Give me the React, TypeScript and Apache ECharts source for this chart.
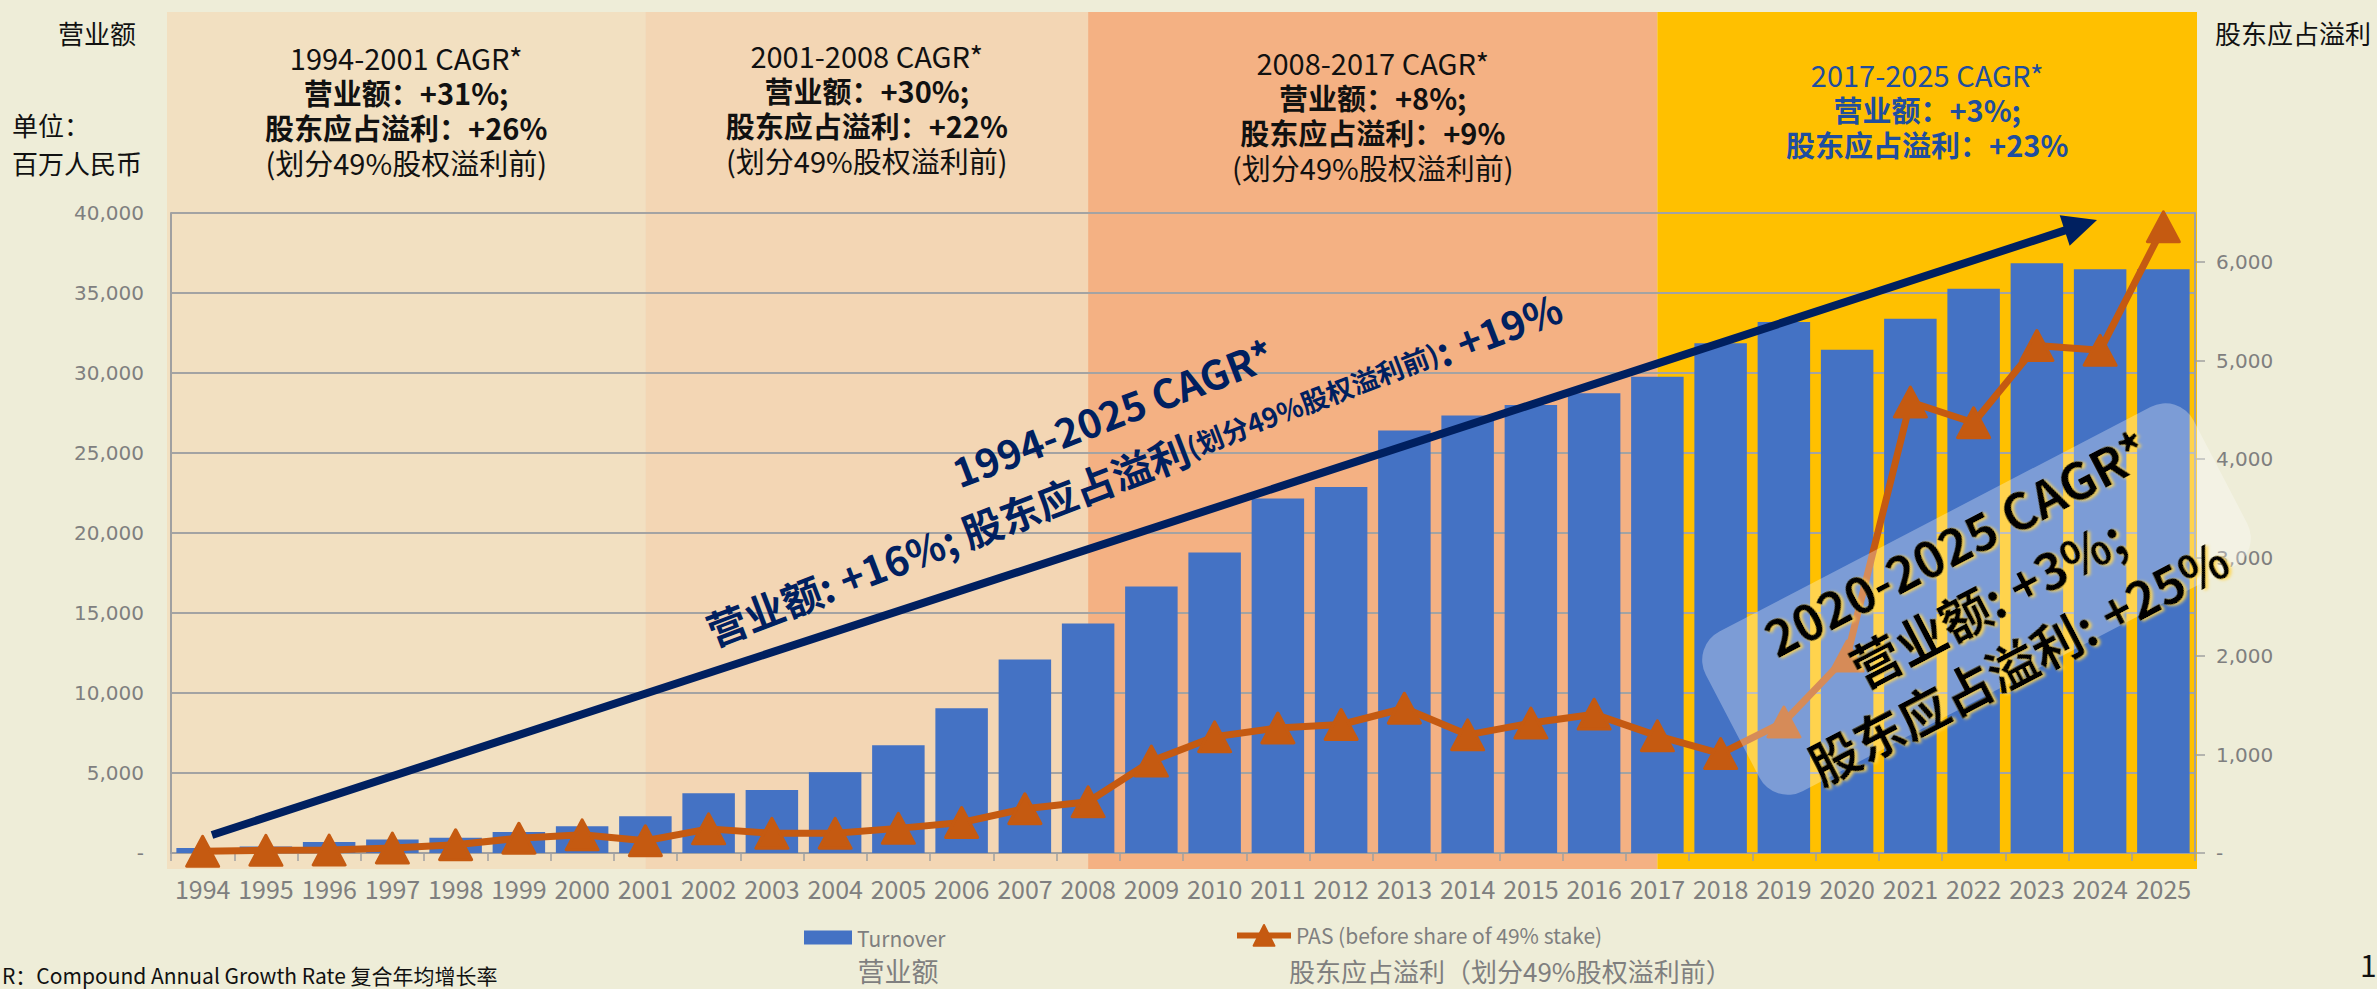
import React, { useEffect, useRef } from "react";
import * as echarts from "echarts";

// ---------- data ----------
const years = [
  "1994", "1995", "1996", "1997", "1998", "1999", "2000", "2001",
  "2002", "2003", "2004", "2005", "2006", "2007", "2008", "2009",
  "2010", "2011", "2012", "2013", "2014", "2015", "2016", "2017",
  "2018", "2019", "2020", "2021", "2022", "2023", "2024", "2025",
];
// Turnover, RMB million (left axis)
const turnover = [
  310, 400, 690, 850, 960, 1310, 1670, 2290,
  3730, 3940, 5040, 6730, 9040, 12100, 14350, 16650,
  18780, 22150, 22870, 26410, 27350, 28000, 28740, 29760,
  31860, 33180, 31450, 33390, 35270, 36860, 36490, 36490,
];
// PAS before share of 49% stake, RMB million (right axis)
const pas = [
  17, 27, 30, 50, 84, 150, 185, 125,
  245, 200, 200, 250, 310, 450, 520, 933,
  1180, 1270, 1305, 1470, 1200, 1320, 1410, 1190,
  1010, 1330, 2000, 4580, 4370, 5155, 5105, 6360,
];
const leftMax = 40000;
const leftInterval = 5000;
const rightMax = 6500;
const rightInterval = 1000;

const seriesNames = ["Turnover", "PAS (before share of 49% stake)"];
const periodEnds = ["2001", "2008", "2017"];
const periodColors = ["#f2e0c1", "#f3d6b4", "#f4b183", "#ffc000"];
const periodTitles = [
  ["1994-2001 CAGR*", "营业额：+31%;", "股东应占溢利：+26%", "(划分49%股权溢利前)"],
  ["2001-2008 CAGR*", "营业额：+30%;", "股东应占溢利：+22%", "(划分49%股权溢利前)"],
  ["2008-2017 CAGR*", "营业额：+8%;", "股东应占溢利：+9%", "(划分49%股权溢利前)"],
  ["2017-2025 CAGR*", "营业额：+3%;", "股东应占溢利：+23%"],
];
const periodTitleTop = [57, 55, 62, 74];

const FONT_CJK = "'Noto Sans CJK SC', 'Noto Sans', sans-serif";
const GRAY = "#7f7f7f";
const NAVY = "#002060";

const W = 2377;
const H = 989;
const G_LEFT = 171;
const G_RIGHT = 2195;
const G_TOP = 213;
const G_BOTTOM = 853;

export default function App() {
  const ref = useRef<HTMLDivElement | null>(null);

  useEffect(() => {
    if (!ref.current) return;
    const chart = echarts.init(ref.current, null, { renderer: "svg" });

    const option: any = {
      animation: false,
      backgroundColor: "#eeedd8",
      grid: {
        left: G_LEFT,
        right: W - G_RIGHT,
        top: G_TOP,
        bottom: H - G_BOTTOM,
        containLabel: false,
      },
      legend: [
        {
          data: [seriesNames[0]],
          left: 799,
          top: 922,
          icon: "rect",
          itemWidth: 48,
          itemHeight: 14,
          textStyle: { color: GRAY, fontSize: 21, fontFamily: FONT_CJK },
        },
        {
          data: [seriesNames[1]],
          left: 1229,
          top: 919,
          itemWidth: 54,
          itemHeight: 26,
          lineStyle: { width: 6 },
          textStyle: { color: GRAY, fontSize: 21, fontFamily: FONT_CJK },
        },
      ],
      xAxis: {
        type: "category",
        data: years,
        boundaryGap: true,
        axisLine: { show: true, lineStyle: { color: "#a0a0a0", width: 2 } },
        axisTick: {
          show: true,
          interval: 0,
          alignWithLabel: false,
          length: 8,
          lineStyle: { color: "#a0a0a0", width: 1.5 },
        },
        axisLabel: {
          interval: 0,
          color: GRAY,
          fontSize: 25,
          fontFamily: FONT_CJK,
          margin: 22,
        },
        splitLine: { show: false },
      },
      yAxis: [
        {
          type: "value",
          min: 0,
          max: leftMax,
          interval: leftInterval,
          position: "left",
          axisLine: { show: true, lineStyle: { color: "#a0a0a0", width: 2 } },
          axisTick: { show: false },
          axisLabel: {
            color: GRAY,
            fontSize: 20,
            fontFamily: "'DejaVu Sans', sans-serif",
            margin: 27,
            formatter: (v: number) => (v === 0 ? "-" : v.toLocaleString("en-US")),
          },
          splitLine: { show: true, lineStyle: { color: "#a3a3a3", width: 2 } },
        },
        {
          type: "value",
          min: 0,
          max: rightMax,
          interval: rightInterval,
          position: "right",
          axisLine: { show: true, lineStyle: { color: "#a0a0a0", width: 2 } },
          axisTick: {
            show: true,
            inside: false,
            length: 10,
            lineStyle: { color: "#a0a0a0", width: 1.5 },
          },
          axisLabel: {
            color: GRAY,
            fontSize: 20,
            fontFamily: "'DejaVu Sans', sans-serif",
            margin: 21,
            showMaxLabel: false,
            formatter: (v: number) => (v === 0 ? "-" : v.toLocaleString("en-US")),
          },
          splitLine: { show: false },
        },
      ],
      series: [
        {
          name: seriesNames[0],
          type: "bar",
          yAxisIndex: 0,
          data: turnover,
          barCategoryGap: "17%",
          itemStyle: { color: "#4472c4" },
        },
        {
          name: seriesNames[1],
          type: "line",
          yAxisIndex: 1,
          data: pas,
          symbol: "triangle",
          symbolSize: [32, 30],
          itemStyle: {
            color: "#c55a11",
            borderColor: "#c55a11",
            borderWidth: 3,
            borderJoin: "round",
          },
          lineStyle: { color: "#c55a11", width: 7 },
        },
      ],
    };

    chart.setOption(option);

    const cx = (c: string) => chart.convertToPixel({ xAxisIndex: 0 }, c) as number;
    const bandTop = 12;
    const bandBottom = 869;
    const edges = [G_LEFT - 4, ...periodEnds.map(cx), G_RIGHT + 2];

    const elements: any[] = [];
    for (let i = 0; i < 4; i++) {
      const x0 = edges[i];
      const x1 = edges[i + 1];
      elements.push({
        type: "rect",
        z: -1,
        shape: { x: x0, y: bandTop, width: x1 - x0, height: bandBottom - bandTop },
        style: { fill: periodColors[i] },
        silent: true,
      });
      const mid = (x0 + x1) / 2;
      const color = i === 3 ? "#1f4e9f" : "#111111";
      periodTitles[i].forEach((t, j) => {
        const bold = j === 1 || j === 2;
        elements.push({
          type: "text",
          z: 5,
          x: mid,
          y: periodTitleTop[i] + j * 35,
          style: {
            text: t,
            align: "center",
            verticalAlign: "middle",
            fill: color,
            font: `${bold ? "bold " : ""}29px ${FONT_CJK}`,
          },
        });
      });
    }

    // corner texts
    const plain = (text: string, x: number, y: number, size: number, align: string, fill = "#111111", va = "middle") => ({
      type: "text",
      z: 5,
      x,
      y,
      style: { text, align, verticalAlign: va, fill, font: `${size}px ${FONT_CJK}` },
    });
    elements.push(plain("营业额", 97, 32, 26, "center"));
    elements.push(plain("单位：", 12, 124, 26, "left"));
    elements.push(plain("百万人民币", 12, 162, 26, "left"));
    elements.push(plain("股东应占溢利", 2293, 32, 26, "center"));
    elements.push(plain("营业额", 898, 970, 27, "center", GRAY));
    elements.push(plain("股东应占溢利（划分49%股权溢利前）", 1289, 970, 26, "left", GRAY));
    elements.push(plain("R：Compound Annual Growth Rate 复合年均增长率", 2, 975, 21, "left", "#111111", "middle"));
    elements.push(plain("1", 2360, 964, 30, "left"));

    // long-term arrow
    const sx = 212, sy = 835, ex = 2097, ey = 220;
    const len = Math.hypot(ex - sx, ey - sy);
    const ux = (ex - sx) / len, uy = (ey - sy) / len;
    const headL = 34, headW = 16;
    const bx = ex - ux * headL, by = ey - uy * headL;
    elements.push({
      type: "line",
      z: 20,
      shape: { x1: sx, y1: sy, x2: bx + ux * 2, y2: by + uy * 2 },
      style: { stroke: NAVY, lineWidth: 8 },
    });
    elements.push({
      type: "polygon",
      z: 20,
      shape: {
        points: [
          [ex, ey],
          [bx - uy * headW, by + ux * headW],
          [bx + uy * headW, by - ux * headW],
        ],
      },
      style: { fill: NAVY },
    });

    const rot1 = (21 * Math.PI) / 180;
    elements.push({
      type: "text",
      z: 21,
      x: 1123,
      y: 440,
      rotation: rot1,
      style: {
        text: "{a|1994-2025 CAGR*}\n{b|营业额: +16%; 股东应占溢利}{s|(划分49%股权溢利前)}{b|: +19%}",
        align: "center",
        verticalAlign: "middle",
        rich: {
          a: { fill: NAVY, font: `bold 40px ${FONT_CJK}`, lineHeight: 60 },
          b: { fill: NAVY, font: `bold 40px ${FONT_CJK}`, lineHeight: 60 },
          s: { fill: NAVY, font: `bold 27px ${FONT_CJK}`, lineHeight: 60 },
        },
      },
    });

    // 2020-2025 box
    const rot2 = (27.5 * Math.PI) / 180;
    const boxText = {
      fill: "#000000",
      font: `bold 50px ${FONT_CJK}`,
      lineHeight: 67,
      textShadowColor: "rgba(255,214,80,0.9)",
      textShadowBlur: 3,
      textShadowOffsetX: 2,
      textShadowOffsetY: 2,
    };
    elements.push({
      type: "group",
      z: 30,
      x: 1985,
      y: 598,
      rotation: rot2,
      children: [
        {
          type: "rect",
          z: 30,
          shape: { x: -283, y: -93, width: 550, height: 180, r: 32 },
          style: { fill: "rgba(255,255,255,0.3)" },
        },
        {
          type: "text",
          z: 31,
          x: 0,
          y: 3,
          style: {
            text: "{t|2020-2025 CAGR*}\n{t|营业额: +3%;}\n{t|股东应占溢利: +25%}",
            align: "center",
            verticalAlign: "middle",
            rich: { t: boxText },
          },
        },
      ],
    });

    chart.setOption({ graphic: { elements } });

    return () => chart.dispose();
  }, []);

  return (
    <div
      ref={ref}
      style={{ position: "fixed", left: 0, top: 0, width: W, height: H }}
    />
  );
}
